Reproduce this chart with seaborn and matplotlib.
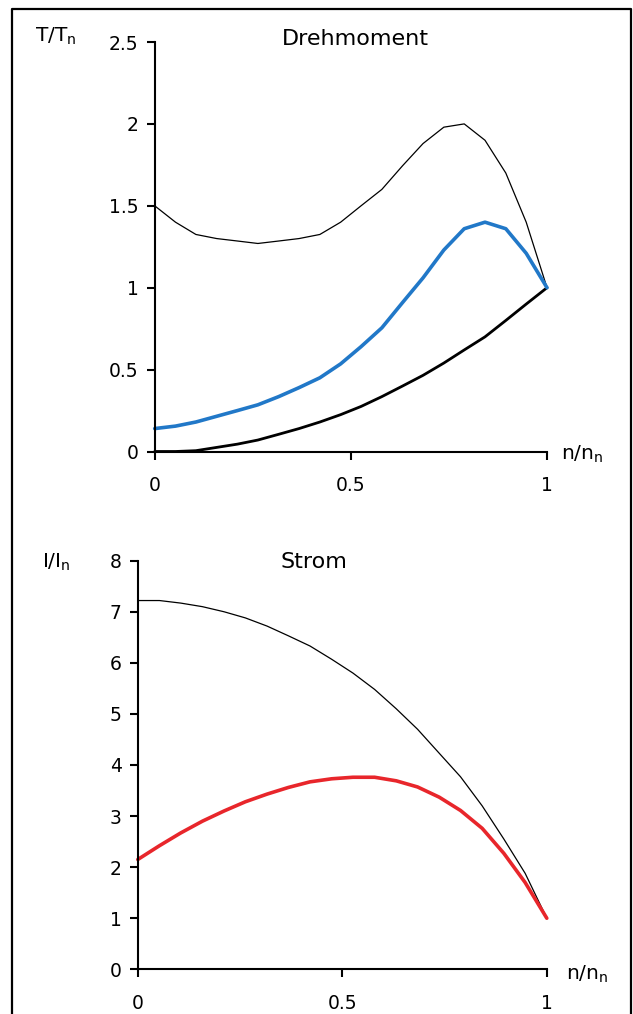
import matplotlib
matplotlib.use("Agg")
import matplotlib.pyplot as plt
import seaborn as sns
import pandas as pd
from matplotlib.lines import Line2D

# ---- data ----
speed = [0.0, 0.053, 0.105, 0.158, 0.211, 0.263, 0.316, 0.368, 0.421, 0.474,
         0.526, 0.579, 0.632, 0.684, 0.737, 0.789, 0.842, 0.895, 0.947, 1.0]

torque_direct = [1.50, 1.40, 1.325, 1.30, 1.285, 1.27, 1.285, 1.30, 1.325, 1.40,
                 1.50, 1.60, 1.745, 1.88, 1.98, 2.00, 1.90, 1.70, 1.40, 1.00]
torque_soft = [0.14, 0.155, 0.18, 0.215, 0.25, 0.285, 0.335, 0.39, 0.45, 0.535,
               0.64, 0.755, 0.91, 1.06, 1.23, 1.36, 1.40, 1.36, 1.21, 1.00]
torque_load = [0.0, 0.0, 0.005, 0.025, 0.045, 0.07, 0.105, 0.14, 0.18, 0.225,
               0.275, 0.335, 0.40, 0.465, 0.54, 0.62, 0.70, 0.80, 0.90, 1.00]

current_direct = [7.22, 7.22, 7.17, 7.10, 7.00, 6.88, 6.72, 6.53, 6.33, 6.07,
                  5.80, 5.48, 5.10, 4.70, 4.23, 3.77, 3.20, 2.55, 1.88, 1.00]
current_soft = [2.15, 2.42, 2.67, 2.90, 3.10, 3.28, 3.43, 3.56, 3.67, 3.73,
                3.76, 3.76, 3.69, 3.57, 3.37, 3.11, 2.76, 2.27, 1.70, 1.00]

torque_ticks = [0, 0.5, 1, 1.5, 2, 2.5]
torque_ticklabels = ["0", "0.5", "1", "1.5", "2", "2.5"]
current_ticks = [0, 1, 2, 3, 4, 5, 6, 7, 8]
current_ticklabels = ["0", "1", "2", "3", "4", "5", "6", "7", "8"]
speed_ticks = [0, 0.5, 1]
speed_ticklabels = ["0", "0.5", "1"]

df_t = pd.DataFrame({"n": speed, "direct": torque_direct,
                     "soft": torque_soft, "load": torque_load})
df_i = pd.DataFrame({"n": speed, "direct": current_direct, "soft": current_soft})

# ---- style ----
sns.set_style("white")
plt.rcParams["font.family"] = ["DejaVu Sans"]
plt.rcParams["mathtext.fontset"] = "dejavusans"
plt.rcParams["text.color"] = "black"

W, H = 633, 1014
fig = plt.figure(figsize=(W / 100, H / 100), dpi=100)

def px_axes(x0, x1, y_top, y_bot):
    return fig.add_axes([x0 / W, 1 - y_bot / H, (x1 - x0) / W, (y_bot - y_top) / H])

ax1 = px_axes(154.7, 547.0, 42.0, 451.5)
ax2 = px_axes(137.8, 546.8, 560.7, 969.3)

BLUE = "#2178C8"
RED = "#E8262B"

sns.lineplot(data=df_t, x="n", y="direct", ax=ax1, color="black", linewidth=0.9,
             estimator=None, clip_on=False)
sns.lineplot(data=df_t, x="n", y="load", ax=ax1, color="black", linewidth=2.0,
             estimator=None, clip_on=False)
sns.lineplot(data=df_t, x="n", y="soft", ax=ax1, color=BLUE, linewidth=2.6,
             estimator=None, clip_on=False)

sns.lineplot(data=df_i, x="n", y="direct", ax=ax2, color="black", linewidth=0.9,
             estimator=None, clip_on=False)
sns.lineplot(data=df_i, x="n", y="soft", ax=ax2, color=RED, linewidth=2.6,
             estimator=None, clip_on=False)

for ax, yt, ytl, ylim in [(ax1, torque_ticks, torque_ticklabels, (0, 2.5)),
                          (ax2, current_ticks, current_ticklabels, (0, 8))]:
    ax.set_xlim(0, 1)
    ax.set_ylim(*ylim)
    ax.set_xticks(speed_ticks)
    ax.set_xticklabels(speed_ticklabels)
    ax.set_yticks(yt)
    ax.set_yticklabels(ytl)
    ax.set_xlabel("")
    ax.set_ylabel("")
    for s in ["top", "right"]:
        ax.spines[s].set_visible(False)
    for s in ["left", "bottom"]:
        ax.spines[s].set_linewidth(1.5)
        ax.spines[s].set_color("black")
    ax.tick_params(axis="both", which="major", direction="out", length=5.5,
                   width=1.5, color="black", labelcolor="black", labelsize=13.5,
                   bottom=True, left=True, top=False, right=False)
    ax.tick_params(axis="x", pad=12)
    ax.tick_params(axis="y", pad=6)
    ax.set_facecolor("white")

# titles and axis labels
ax1.text(0.325, 0.993, "Drehmoment", transform=ax1.transAxes, fontsize=16,
         ha="left", va="baseline")
ax1.text(-0.304, 1.0, r"$\mathregular{T/T_n}$", transform=ax1.transAxes,
         fontsize=14.5, ha="left", va="baseline")
ax1.text(1.036, -0.021, r"$\mathregular{n/n_n}$", transform=ax1.transAxes,
         fontsize=14.5, ha="left", va="baseline")

ax2.text(0.348, 0.982, "Strom", transform=ax2.transAxes, fontsize=16,
         ha="left", va="baseline")
ax2.text(-0.234, 0.982, r"$\mathregular{I/I_n}$", transform=ax2.transAxes,
         fontsize=14.5, ha="left", va="baseline")
ax2.text(1.047, -0.026, r"$\mathregular{n/n_n}$", transform=ax2.transAxes,
         fontsize=14.5, ha="left", va="baseline")

# outer frame (left, top, right; open at the bottom)
xl, xr, yt_ = 12 / W, 630.5 / W, 1 - 9.3 / H
fig.add_artist(Line2D([xl, xl, xr, xr], [0, yt_, yt_, 0], color="black",
                      linewidth=1.6, transform=fig.transFigure))

fig.savefig("out.png", dpi=100, facecolor="white")
